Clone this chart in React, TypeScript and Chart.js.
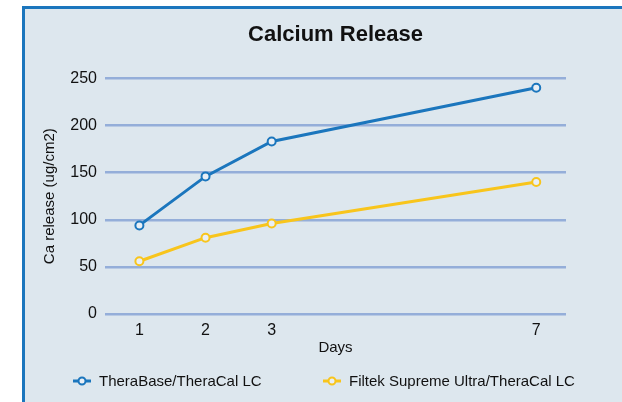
import React, { useEffect, useRef } from "react";
import { Chart, registerables } from "chart.js";

Chart.register(...registerables);

const days = [1, 2, 3, 7];
const theraBase = [94, 146, 183, 240];
const filtek = [56, 81, 96, 140];
const seriesNames = ["TheraBase/TheraCal LC", "Filtek Supreme Ultra/TheraCal LC"];
const yTicks = [0, 50, 100, 150, 200, 250];

const BLUE = "#1b76bd";
const YELLOW = "#f8c51c";
const BG = "#dde7ee";
const GRID = "#94aed9";
const FONT = "'Liberation Sans', Arial, sans-serif";
const colors = [BLUE, YELLOW];

function Marker({ color }: { color: string }) {
  return (
    <svg width={18} height={10} style={{ display: "block" }}>
      <line x1={0} y1={5} x2={18} y2={5} stroke={color} strokeWidth={3} />
      <circle cx={9} cy={5} r={3.5} fill="#e9eff5" stroke={color} strokeWidth={2} />
    </svg>
  );
}

export default function App() {
  const ref = useRef<HTMLCanvasElement>(null);
  useEffect(() => {
    if (!ref.current) return;
    const chart = new Chart(ref.current, {
      type: "line",
      data: {
        datasets: [theraBase, filtek].map((vals, k) => ({
          label: seriesNames[k],
          data: days.map((d, i) => ({ x: d, y: vals[i] })),
          borderColor: colors[k],
          backgroundColor: BG,
          pointBackgroundColor: "#e9eff5",
          pointBorderColor: colors[k],
          borderWidth: 3,
          pointRadius: 4,
          pointBorderWidth: 2,
          pointStyle: "circle",
        })),
      },
      options: {
        animation: false,
        responsive: false,
        layout: { padding: { left: 0, right: 56, top: 0, bottom: 47 } },
        scales: {
          x: {
            type: "linear",
            min: 0.48,
            max: 7.45,
            afterBuildTicks: (s: any) => {
              s.ticks = days.map((v) => ({ value: v }));
            },
            grid: { display: false },
            border: { display: false },
            ticks: {
              autoSkip: false,
              color: "#111",
              font: { family: FONT, size: 16, lineHeight: 1 },
              padding: 1,
              callback: (v: any) => String(v),
            },
            title: {
              display: true,
              text: "Days",
              color: "#111",
              font: { family: FONT, size: 15, lineHeight: 1 },
              padding: { top: 0, bottom: 0 },
            },
          },
          y: {
            min: 0,
            max: 250,
            afterBuildTicks: (s: any) => {
              s.ticks = yTicks.map((v) => ({ value: v }));
            },
            afterFit: (s: any) => {
              s.width = 80;
            },
            grid: { color: GRID, lineWidth: 2.5, drawTicks: false },
            border: { display: false },
            ticks: {
              autoSkip: false,
              color: "#111",
              font: { family: FONT, size: 16 },
              padding: 8,
            },
            title: {
              display: true,
              text: "Ca release (ug/cm2)",
              color: "#111",
              font: { family: FONT, size: 15 },
              padding: { top: 16, bottom: 0 },
            },
          },
        },
        plugins: {
          title: {
            display: true,
            text: "Calcium Release",
            fullSize: false,
            color: "#111",
            font: { family: FONT, size: 22, weight: "bold" },
            padding: { top: 13, bottom: 30 },
          },
          legend: { display: false },
          tooltip: { enabled: false },
        },
      },
    });
    return () => chart.destroy();
  }, []);

  return (
    <div style={{ position: "fixed", left: 0, top: 0, width: 622, height: 402, background: "#fff", overflow: "hidden" }}>
      <div
        style={{
          position: "absolute",
          left: 22,
          top: 6,
          width: 640,
          height: 420,
          borderLeft: `3px solid ${BLUE}`,
          borderTop: `3px solid ${BLUE}`,
          background: BG,
        }}
      >
        <canvas ref={ref} width={597} height={393} style={{ display: "block", width: 597, height: 393 }} />
        {seriesNames.map((n, i) => (
          <div
            key={n}
            style={{
              position: "absolute",
              top: 363,
              left: i === 0 ? 48 : 298,
              display: "flex",
              alignItems: "center",
              gap: 8,
              fontFamily: FONT,
              fontSize: 15,
              color: "#111",
              lineHeight: "18px",
              whiteSpace: "nowrap",
            }}
          >
            <Marker color={colors[i]} />
            <span>{n}</span>
          </div>
        ))}
      </div>
    </div>
  );
}
